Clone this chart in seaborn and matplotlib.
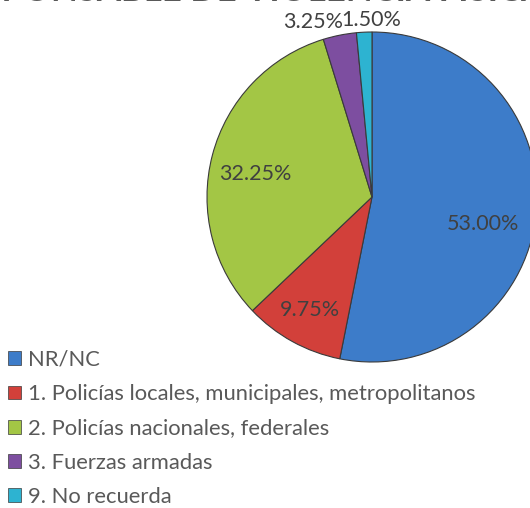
import matplotlib
matplotlib.use("Agg")
import matplotlib.pyplot as plt
import seaborn as sns
import numpy as np
from matplotlib.patches import Patch

categories = ["NR/NC",
              "1. Policías locales, municipales, metropolitanos",
              "2. Policías nacionales, federales",
              "3. Fuerzas armadas",
              "9. No recuerda"]
values = [53.00, 9.75, 32.25, 3.25, 1.50]
label_texts = ["53.00%", "9.75%", "32.25%", "3.25%", "1.50%"]
title_text = "RESPONSABLE DE VIOLENCIA FÍSICA"

sns.set_theme(style="white")
plt.rcParams['font.family'] = ['Lato', 'DejaVu Sans']

colors = sns.color_palette(["#3D7CC9", "#D2403A", "#A3C645", "#7D4EA0", "#2DB3D1"])

W, H = 530, 508
fig = plt.figure(figsize=(W / 100, H / 100), dpi=100)
cx, cy, r = 372, 197, 165
ax = fig.add_axes([(cx - r) / W, (H - cy - r) / H, 2 * r / W, 2 * r / H])

wedges, _ = ax.pie(values, colors=colors, startangle=90, counterclock=False,
                   radius=1.0,
                   wedgeprops=dict(edgecolor="#3a3a3a", linewidth=0.8))
ax.set_xlim(-1, 1)
ax.set_ylim(-1, 1)
ax.set_axis_off()

dist = [0.69, 0.78, 0.72, 1.12, 1.07]
angle_shift = [-8, 0, 3.4, 7.2, -2.4]
for w, txt, d, s in zip(wedges, label_texts, dist, angle_shift):
    ang = np.deg2rad((w.theta1 + w.theta2) / 2 + s)
    ax.text(d * np.cos(ang), d * np.sin(ang), txt, ha="center", va="center",
            fontsize=15.5, color="#404040", clip_on=False)

handles = [Patch(facecolor=c, edgecolor="#3a3a3a", linewidth=0.5) for c in colors]
fig.legend(handles, categories, loc="upper left",
           bbox_to_anchor=(8 / W, 1 - 350 / H), frameon=False,
           fontsize=15.8, labelcolor="#595959", handlelength=0.6, handleheight=0.6,
           handletextpad=0.3, labelspacing=0.65, borderaxespad=0, borderpad=0)

fig.text(-60 / W, 1 - 1 / H, title_text, ha="left", va="baseline",
         fontsize=25, fontweight="bold", color="#595959")

fig.savefig("out.png", dpi=100)
